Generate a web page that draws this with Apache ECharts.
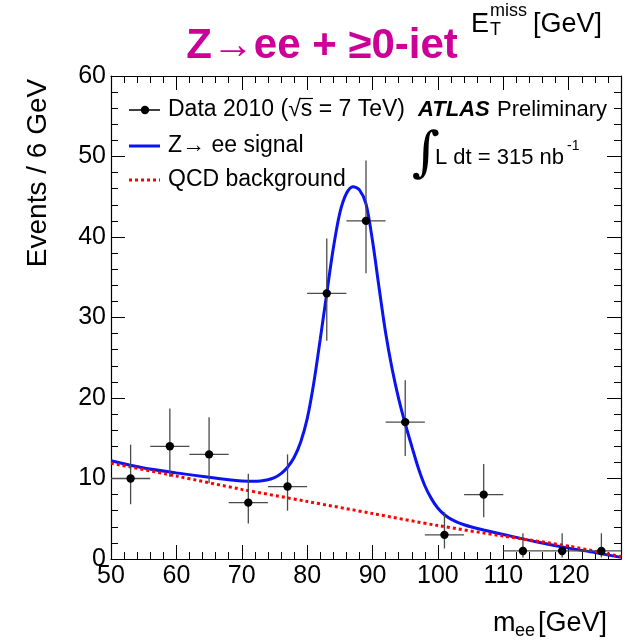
<!DOCTYPE html>
<html>
<head>
<meta charset="utf-8">
<script src="https://cdn.jsdelivr.net/npm/echarts@6/dist/echarts.min.js"></script>
<style>
  html, body { margin: 0; padding: 0; background: #fff; }
  #chart { width: 638px; height: 644px; }
</style>
</head>
<body>
<div id="chart"></div>
<script>
// bins of 6 GeV in m_ee
const binCenters = [53, 59, 65, 71, 77, 83, 89, 95, 101, 107, 113, 119, 125]
const binHalfWidth = 3
const events = [10, 14, 13, 7, 9, 33, 42, 17, 3, 8, 1, 1, 1]
const errLow = [6.8, 10.2, 9.4, 4.4, 6.0, 27.1, 35.5, 12.8, 1.3, 5.2, 0.2, 0.2, 0.2]
const errHigh = [14.2, 18.7, 17.6, 10.6, 13.0, 39.8, 49.5, 22.2, 5.8, 11.8, 3.2, 3.2, 3.2]

// Z -> ee signal fit (signal + background)
const signalX = [50, 55, 60, 65, 68, 70, 72, 74, 75, 76, 77, 78, 79, 80, 81, 82, 83, 84, 85, 86, 87, 88,
  89, 90, 91, 92, 93, 94, 95, 96, 97, 98, 99, 100, 101, 102, 103, 104, 105, 107, 110, 115, 120, 124, 128]
const signalY = [12.2, 11.3, 10.7, 10.15, 9.85, 9.7, 9.65, 9.85, 10.1, 10.6, 11.4, 12.6, 14.5, 17.4, 21.8, 27.3, 33.0, 38.6, 43.0, 45.4, 46.25, 45.85,
  44.1, 39.5, 33.7, 28.1, 23.6, 19.9, 16.8, 14.0, 11.3, 9.1, 7.5, 6.3, 5.5, 4.95, 4.55, 4.25, 4.0, 3.6, 3.05, 2.15, 1.35, 0.8, 0.2]

// QCD background
const qcdX = [50, 60, 70, 80, 90, 100, 110, 120, 128]
const qcdY = [11.9, 10.3, 8.65, 7.15, 5.65, 4.15, 2.85, 1.6, 0.3]

// axis ranges
const xMin = 50
const xMax = 128
const yMin = 0
const yMax = 60

const FONT = '"Liberation Sans", Arial, Helvetica, sans-serif'

const chart = echarts.init(document.getElementById('chart'))

const pointData = binCenters.map((x, i) => [x, events[i], errLow[i], errHigh[i]])
const signalData = signalX.map((x, i) => [x, signalY[i]])
const qcdData = qcdX.map((x, i) => [x, qcdY[i]])

// data point with asymmetric vertical error and bin-width horizontal bar
function renderPoint (params, api) {
  const x = api.value(0)
  const y = api.value(1)
  const c = api.coord([x, y])
  const lo = api.coord([x, api.value(2)])
  const hi = api.coord([x, api.value(3)])
  const left = api.coord([x - binHalfWidth, y])
  const right = api.coord([x + binHalfWidth, y])
  const bar = { stroke: '#4a4a4a', lineWidth: 1.3 }
  return {
    type: 'group',
    children: [
      { type: 'line', shape: { x1: lo[0], y1: lo[1], x2: hi[0], y2: hi[1] }, style: bar },
      { type: 'line', shape: { x1: left[0], y1: c[1], x2: right[0], y2: c[1] }, style: bar },
      { type: 'circle', shape: { cx: c[0], cy: c[1], r: 4.2 }, style: { fill: '#000' } }
    ]
  }
}

// one axis for the minor ticks, one for the major ticks + labels (ticks inside)
function xAxisPair (position) {
  const labels = position === 'bottom'
  return [{
    type: 'value', min: xMin, max: xMax, interval: 2, position: position,
    axisLine: { show: true, onZero: false, lineStyle: { color: '#000', width: 1.2 } },
    axisTick: { show: true, inside: true, length: 7, lineStyle: { color: '#000', width: 1 } },
    axisLabel: { show: false },
    splitLine: { show: false }
  }, {
    type: 'value', min: xMin, max: xMax, interval: 10, position: position,
    axisLine: { show: false, onZero: false },
    axisTick: { show: true, inside: true, length: 14, lineStyle: { color: '#000', width: 1 } },
    axisLabel: {
      show: labels, color: '#000', fontSize: 25, fontFamily: FONT, margin: 5,
      showMaxLabel: false
    },
    splitLine: { show: false }
  }]
}

function yAxisOne (position) {
  return {
    type: 'value', min: yMin, max: yMax, interval: 10, position: position,
    axisLine: { show: true, onZero: false, lineStyle: { color: '#000', width: 1.2 } },
    axisTick: { show: true, inside: true, length: 14, lineStyle: { color: '#000', width: 1 } },
    minorTick: { show: true, splitNumber: 5, length: 7, lineStyle: { color: '#000', width: 1 } },
    axisLabel: { show: position === 'left', color: '#000', fontSize: 25, fontFamily: FONT, margin: 5 },
    splitLine: { show: false },
    minorSplitLine: { show: false }
  }
}

const txt = (x, y, text, extra) => ({
  type: 'text', x: x, y: y, z: 100,
  style: Object.assign({ text: text, fill: '#000', fontSize: 22, fontFamily: FONT, align: 'left', verticalAlign: 'middle' }, extra || {})
})

chart.setOption({
  backgroundColor: '#fff',
  animation: false,
  grid: { left: 111, right: 17, top: 76, bottom: 85, containLabel: false },
  xAxis: xAxisPair('bottom').concat(xAxisPair('top')),
  yAxis: [yAxisOne('left'), yAxisOne('right')],
  series: [{
    name: 'Z→ ee signal',
    type: 'line',
    data: signalData,
    showSymbol: false,
    smooth: 0.3,
    lineStyle: { color: '#0a14f0', width: 3 },
    z: 2
  }, {
    name: 'QCD background',
    type: 'line',
    data: qcdData,
    showSymbol: false,
    smooth: 0.3,
    lineStyle: { color: '#ff0000', width: 3, type: [3, 3] },
    z: 3
  }, {
    name: 'Data 2010',
    type: 'custom',
    renderItem: renderPoint,
    data: pointData,
    encode: { x: 0, y: 1 },
    clip: true,
    z: 4
  }],
  graphic: [
    // title
    txt(322, 46, 'Z→ee + ≥0-iet', { fill: '#cc0099', fontSize: 42, fontWeight: 'bold', align: 'center' }),
    // E_T^miss [GeV]
    txt(471, 25, 'E', { fontSize: 27 }),
    txt(490, 30, 'T', { fontSize: 18 }),
    txt(490, 11, 'miss', { fontSize: 18 }),
    txt(533, 25, '[GeV]', { fontSize: 27 }),
    // y axis title
    {
      type: 'text', x: 38, y: 173, rotation: Math.PI / 2, z: 100,
      style: { text: 'Events / 6 GeV', fill: '#000', fontSize: 28, fontFamily: FONT, align: 'center', verticalAlign: 'middle' }
    },
    // x axis title
    txt(493, 624, 'm', { fontSize: 27 }),
    txt(515, 631, 'ee', { fontSize: 18 }),
    txt(538, 624, '[GeV]', { fontSize: 27 }),
    // legend
    { type: 'line', z: 100, shape: { x1: 129, y1: 110, x2: 160, y2: 110 }, style: { stroke: '#000', lineWidth: 1.5 } },
    { type: 'circle', z: 100, shape: { cx: 145, cy: 110, r: 4.2 }, style: { fill: '#000' } },
    txt(168, 110, 'Data 2010 (√s = 7 TeV)', { fontSize: 23 }),
    { type: 'line', z: 100, shape: { x1: 300, y1: 98.5, x2: 313, y2: 98.5 }, style: { stroke: '#000', lineWidth: 1.2 } },
    { type: 'line', z: 100, shape: { x1: 129, y1: 146, x2: 160, y2: 146 }, style: { stroke: '#0a14f0', lineWidth: 3 } },
    txt(168, 146, 'Z→ ee signal', { fontSize: 23 }),
    { type: 'line', z: 100, shape: { x1: 129, y1: 180, x2: 160, y2: 180 }, style: { stroke: '#ff0000', lineWidth: 3, lineDash: [3, 3] } },
    txt(168, 180, 'QCD background', { fontSize: 23 }),
    // ATLAS label
    txt(418, 110, 'ATLAS', { fontWeight: 'bold', fontStyle: 'italic' }),
    txt(607, 110, 'Preliminary', { align: 'right' }),
    txt(412, 156, '∫', { fontSize: 54, fontFamily: '"DejaVu Serif", serif', fontWeight: 'lighter' }),
    txt(435, 158, 'L dt = 315 nb', { fontSize: 22 }),
    txt(567, 146, '-1', { fontSize: 14 })
  ]
})
</script>
</body>
</html>
